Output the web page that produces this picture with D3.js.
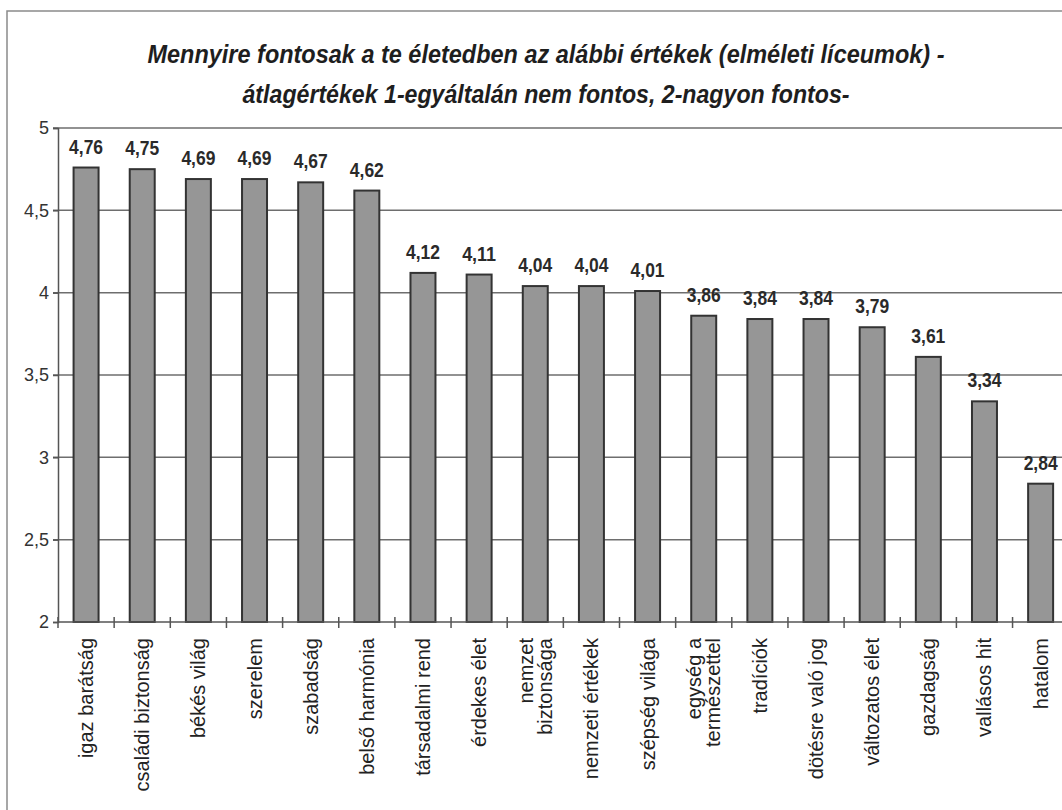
<!DOCTYPE html>
<html>
<head>
<meta charset="utf-8">
<script src="https://cdn.jsdelivr.net/npm/d3@7"></script>
<style>
  html, body { margin: 0; padding: 0; background: #fff; }
  svg { display: block; }
</style>
</head>
<body>
<svg id="chart" width="1062" height="810"></svg>
<script>
// Values and labels
const categories = [
  "igaz barátság", "családi biztonság", "békés világ", "szerelem", "szabadság",
  "belső harmónia", "társadalmi rend", "érdekes élet", "nemzet\nbiztonsága",
  "nemzeti értékek", "szépség világa", "egység a\ntermészettel", "tradíciók",
  "dötésre való jog", "változatos élet", "gazdagság", "vallásos hit", "hatalom"
];
const values = [4.76, 4.75, 4.69, 4.69, 4.67, 4.62, 4.12, 4.11, 4.04, 4.04, 4.01,
                3.86, 3.84, 3.84, 3.79, 3.61, 3.34, 2.84];
const yTicks = [2, 2.5, 3, 3.5, 4, 4.5, 5];
const titleLines = [
  "Mennyire fontosak a te életedben az alábbi értékek (elméleti líceumok) -",
  "átlagértékek 1-egyáltalán nem fontos, 2-nagyon fontos-"
];

const svg = d3.select("#chart");
const fmt = v => String(v).replace(".", ",");
const fmtVal = v => v.toFixed(2).replace(".", ",");

const margin = { left: 58, top: 128, bottom: 622 };
const step = 56.15;
const plotRight = margin.left + step * categories.length;

const x = d3.scaleBand()
  .domain(categories)
  .range([margin.left, plotRight])
  .paddingInner(0.555)
  .paddingOuter(0.2775);

const y = d3.scaleLinear().domain([2, 5]).range([margin.bottom, margin.top]);

// Outer frame (runs off the right and bottom edges)
svg.append("rect")
  .attr("x", 7).attr("y", 11)
  .attr("width", 1100).attr("height", 830)
  .attr("fill", "none").attr("stroke", "#8a8a8a").attr("stroke-width", 1.5);

// Title
const title = svg.append("g").attr("font-family", "'Liberation Sans', Arial, sans-serif")
  .attr("font-weight", "bold").attr("font-style", "italic").attr("font-size", 25)
  .attr("fill", "#1e1e1e").attr("text-anchor", "middle");
const titleWidths = [797, 607];
titleLines.forEach((t, i) => {
  title.append("text")
    .attr("x", 546).attr("y", 63 + i * 40)
    .attr("textLength", titleWidths[i]).attr("lengthAdjust", "spacingAndGlyphs")
    .text(t);
});

// Gridlines
svg.append("g")
  .selectAll("line").data(yTicks.filter(d => d > 2)).join("line")
  .attr("x1", margin.left - 5).attr("x2", plotRight)
  .attr("y1", d => y(d)).attr("y2", d => y(d))
  .attr("stroke", "#6e6e6e").attr("stroke-width", 1.5);

// Y axis
const yAxis = svg.append("g")
  .attr("transform", `translate(${margin.left},0)`)
  .call(d3.axisLeft(y).tickValues(yTicks).tickFormat(fmt).tickSize(5).tickPadding(4));
yAxis.select(".domain").attr("stroke", "#555").attr("stroke-width", 1.5);
yAxis.selectAll(".tick line").attr("stroke", "#555").attr("stroke-width", 1.5);
yAxis.selectAll(".tick text")
  .attr("font-family", "'Liberation Sans', Arial, sans-serif")
  .attr("font-size", 18).attr("fill", "#333");

// Bars
svg.append("g")
  .selectAll("rect").data(values).join("rect")
  .attr("x", (d, i) => x(categories[i]))
  .attr("y", d => y(d))
  .attr("width", x.bandwidth())
  .attr("height", d => y(2) - y(d))
  .attr("fill", "#969696")
  .attr("stroke", "#333").attr("stroke-width", 2);

// Value labels
svg.append("g")
  .attr("font-family", "'Liberation Sans', Arial, sans-serif")
  .attr("font-size", 20).attr("font-weight", "bold")
  .attr("fill", "#2a2a2a").attr("text-anchor", "middle")
  .selectAll("text").data(values).join("text")
  .attr("x", (d, i) => x(categories[i]) + x.bandwidth() / 2)
  .attr("y", d => y(d) - 14)
  .attr("textLength", 34).attr("lengthAdjust", "spacingAndGlyphs")
  .text(fmtVal);

// X axis line with ticks at category boundaries
svg.append("line")
  .attr("x1", margin.left).attr("x2", plotRight)
  .attr("y1", y(2)).attr("y2", y(2))
  .attr("stroke", "#555").attr("stroke-width", 1.5);
svg.append("g")
  .selectAll("line").data(d3.range(categories.length + 1)).join("line")
  .attr("x1", i => margin.left + i * x.step()).attr("x2", i => margin.left + i * x.step())
  .attr("y1", y(2) - 5).attr("y2", y(2) + 6)
  .attr("stroke", "#555").attr("stroke-width", 1.5);

// Category labels (rotated)
const lab = svg.append("g")
  .attr("font-family", "'Liberation Sans', Arial, sans-serif")
  .attr("font-size", 20).attr("fill", "#222");
categories.forEach((c, i) => {
  const lines = c.split("\n");
  const cx = x(c) + x.bandwidth() / 2;
  lines.forEach((ln, j) => {
    const off = (j - (lines.length - 1) / 2) * 19;
    lab.append("text")
      .attr("transform", `translate(${cx + off},${y(2) + 16}) rotate(-90)`)
      .attr("text-anchor", "end")
      .attr("dy", "0.35em")
      .text(ln);
  });
});
</script>
</body>
</html>
